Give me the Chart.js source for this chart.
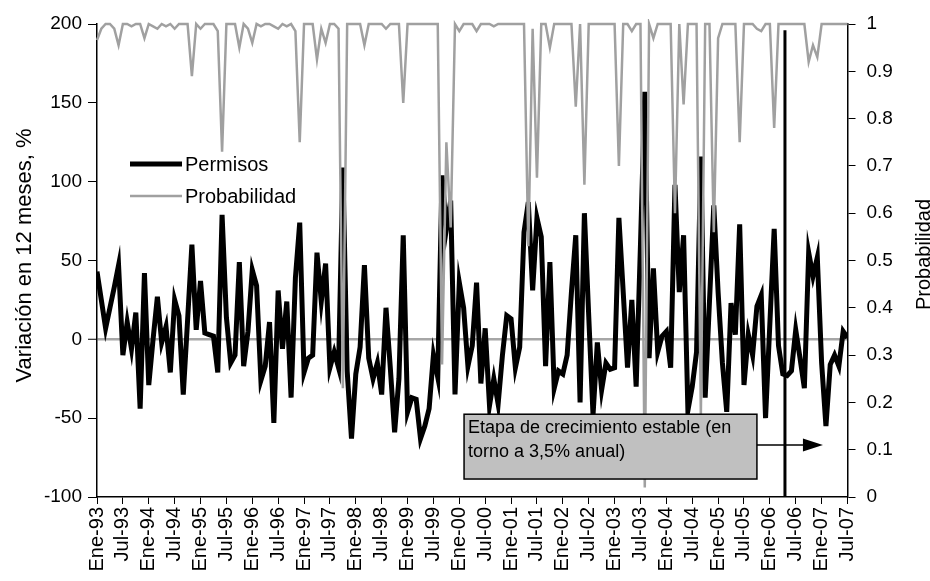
<!DOCTYPE html>
<html>
<head>
<meta charset="utf-8">
<script src="https://cdn.jsdelivr.net/npm/chart.js@4.4.1/dist/chart.umd.min.js"></script>
<style>
  html, body { margin: 0; padding: 0; background: #fff; }
</style>
</head>
<body>
<canvas id="chart" width="930" height="581"></canvas>
<script>
// ======= DATOS =======
const etiquetas = [
  "Ene-93","Jul-93","Ene-94","Jul-94","Ene-95","Jul-95","Ene-96","Jul-96","Ene-97","Jul-97",
  "Ene-98","Jul-98","Ene-99","Jul-99","Ene-00","Jul-00","Ene-01","Jul-01","Ene-02","Jul-02",
  "Ene-03","Jul-03","Ene-04","Jul-04","Ene-05","Jul-05","Ene-06","Jul-06","Ene-07","Jul-07"
];

// variacion en 12 meses de permisos, mensual ene-93 .. jul-07
const permisos = [
  43, 25, 7, 20, 33, 47, -10, 11, -6, 17, -44, 42,
  -29, 0, 27, -2, 8, -21, 25, 15, -35, 12, 60, 6,
  37, 4, 3, 2, -21, 79, 14, -15, -10, 49, -17, 5,
  44, 34, -26, -17, 11, -53, 31, -6, 24, -37, 39, 74,
  -21, -12, -10, 55, 24, 48, -18, -8, -18, 109, -20, -63,
  -22, -5, 47, -12, -25, -15, -35, 20, -18, -59, -25, 66,
  -46, -37, -38, -63, -55, -44, -10, -24, 104, 70, 88, -35,
  36, 20, -17, -4, 36, -28, 7, -42, -25, -41, -10, 15,
  13, -18, -5, 68, 87, 31, 77, 65, -17, 49, -31, -20,
  -22, -10, 30, 66, -40, 80, 15, -48, -2, -32, -15, -19,
  -18, 77, 30, -18, 25, -30, 60, 157, -12, 45, -8, 2,
  5, -18, 98, 30, 66, -45, -30, -8, 116, -37, 24, 85,
  30, -15, -46, 23, 3, 73, -29, 3, -10, 21, 28, -50,
  10, 70, -4, -22, -23, -20, 6, -12, -31, 55, 40, 52,
  -15, -55, -16, -10, -17, 5, 1
];

const probabilidad = [
  0.966, 0.99, 1, 1, 0.99, 0.955, 1, 1, 0.995, 1, 1, 0.97,
  1, 0.995, 0.99, 1, 0.995, 1, 0.99, 1, 1, 1, 0.89, 1,
  0.99, 1, 1, 1, 0.985, 0.73, 1, 1, 1, 0.95, 1, 0.99,
  0.96, 1, 0.995, 1, 1, 0.995, 0.99, 1, 0.995, 1, 0.985, 0.75,
  1, 1, 1, 0.925, 0.99, 0.96, 1, 1, 0.99, 0.23, 1, 1,
  1, 1, 0.955, 1, 1, 1, 1, 0.99, 1, 1, 1, 0.833,
  1, 1, 1, 1, 1, 1, 1, 1, 0.28, 0.75, 0.57, 1,
  0.985, 1, 1, 1, 0.985, 1, 1, 1, 0.995, 1, 1, 1,
  1, 1, 1, 1, 0.53, 0.99, 0.675, 1, 1, 0.95, 1, 1,
  1, 1, 1, 0.825, 1, 0.66, 1, 1, 1, 1, 1, 1,
  1, 0.70, 1, 1, 0.985, 1, 1, 0.02, 1, 0.97, 1, 1,
  1, 1, 0.60, 1, 0.83, 1, 1, 1, 0.17, 1, 1, 0.56,
  0.97, 1, 1, 1, 1, 0.75, 1, 1, 1, 0.99, 0.985, 1,
  1, 0.78, 1, 1, 1, 1, 1, 1, 1, 0.92, 0.955, 0.93,
  1, 1, 1, 1, 1, 1, 1
];

// anotacion: recuadro, flecha y linea vertical (en unidades de los ejes)
const textoCaja = ["Etapa de crecimiento estable (en", "torno a 3,5% anual)"];
const caja = { desde: 85.1, hasta: 153, arriba: -47.5, abajo: -88.6 };
const flecha = { nivel: -67, hasta: 168.3 };
const linea = { mes: 159.5, tope: 196 };

const FUENTE = '"Liberation Sans", Arial, sans-serif';
Chart.defaults.font.family = FUENTE;
Chart.defaults.color = "#000";

// ======= ANOTACIONES =======
const anotaciones = {
  id: "anotaciones",
  afterDatasetsDraw(chart) {
    const { ctx, chartArea: a, scales: { x, y } } = chart;
    ctx.save();

    // recuadro gris
    const bx1 = x.getPixelForValue(caja.desde), bx2 = x.getPixelForValue(caja.hasta);
    const by1 = y.getPixelForValue(caja.arriba), by2 = y.getPixelForValue(caja.abajo);
    ctx.fillStyle = "#C0C0C0";
    ctx.fillRect(bx1, by1, bx2 - bx1, by2 - by1);
    ctx.strokeStyle = "#000";
    ctx.lineWidth = 1.5;
    ctx.strokeRect(bx1, by1, bx2 - bx1, by2 - by1);
    ctx.fillStyle = "#000";
    ctx.font = "18px " + FUENTE;
    ctx.textAlign = "left";
    ctx.textBaseline = "alphabetic";
    ctx.fillText(textoCaja[0], bx1 + 4, by1 + 19);
    ctx.fillText(textoCaja[1], bx1 + 4, by1 + 43);

    // flecha
    const ay = y.getPixelForValue(flecha.nivel);
    const ax = x.getPixelForValue(flecha.hasta);
    ctx.beginPath();
    ctx.moveTo(bx2, ay);
    ctx.lineTo(ax - 18, ay);
    ctx.stroke();
    ctx.beginPath();
    ctx.moveTo(ax, ay);
    ctx.lineTo(ax - 20, ay - 6.5);
    ctx.lineTo(ax - 20, ay + 6.5);
    ctx.closePath();
    ctx.fill();

    // linea vertical
    const vx = x.getPixelForValue(linea.mes);
    ctx.beginPath();
    ctx.moveTo(vx, y.getPixelForValue(linea.tope));
    ctx.lineTo(vx, a.bottom);
    ctx.lineWidth = 3;
    ctx.stroke();

    // leyenda
    const lx = a.left + 33, ly = a.top + 140;
    ctx.beginPath();
    ctx.moveTo(lx, ly); ctx.lineTo(lx + 52, ly);
    ctx.lineWidth = 5; ctx.strokeStyle = "#000"; ctx.stroke();
    ctx.beginPath();
    ctx.moveTo(lx, ly + 32); ctx.lineTo(lx + 52, ly + 32);
    ctx.lineWidth = 2.5; ctx.strokeStyle = "#A0A0A0"; ctx.stroke();
    ctx.font = "20px " + FUENTE;
    ctx.textBaseline = "middle";
    ctx.fillText("Permisos", lx + 55, ly + 1);
    ctx.fillText("Probabilidad", lx + 55, ly + 33);

    // titulos de ejes
    ctx.textAlign = "center";
    ctx.save();
    ctx.translate(25, (a.top + a.bottom) / 2 - 5);
    ctx.rotate(-Math.PI / 2);
    ctx.font = "22px " + FUENTE;
    ctx.fillText("Variación en 12 meses, %", 0, 0);
    ctx.restore();
    ctx.save();
    ctx.translate(924, (a.top + a.bottom) / 2 - 6);
    ctx.rotate(-Math.PI / 2);
    ctx.font = "20px " + FUENTE;
    ctx.fillText("Probabilidad", 0, 0);
    ctx.restore();

    ctx.restore();
  }
};

// ======= GRAFICO =======
const ctx = document.getElementById("chart");
const chart = new Chart(ctx, {
  type: "line",
  data: {
    datasets: [
      {
        label: "Permisos",
        data: permisos.map((v, i) => ({ x: i, y: v })),
        yAxisID: "y",
        borderColor: "#000",
        borderWidth: 5,
        pointRadius: 0,
        tension: 0,
        order: 1
      },
      {
        label: "Probabilidad",
        data: probabilidad.map((v, i) => ({ x: i, y: v })),
        yAxisID: "y1",
        borderColor: "#A0A0A0",
        borderWidth: 2.5,
        pointRadius: 0,
        tension: 0,
        clip: 5,
        order: 0
      }
    ]
  },
  options: {
    responsive: false,
    animation: false,
    layout: { padding: { top: 24, left: 0, right: 0, bottom: 0 } },
    plugins: { legend: { display: false }, tooltip: { enabled: false } },
    scales: {
      x: {
        type: "linear",
        min: 0,
        max: permisos.length - 1,
        afterFit: s => { s.height = 84; },
        ticks: {
          stepSize: 6,
          autoSkip: false,
          minRotation: 90,
          maxRotation: 90,
          padding: 3,
          font: { size: 20 },
          callback: v => etiquetas[Math.round(v / 6)]
        },
        grid: { drawOnChartArea: false, tickLength: 7, tickColor: "#000", color: "#000" },
        border: { color: "#000", width: 1.5 }
      },
      y: {
        position: "left",
        min: -100,
        max: 200,
        afterFit: s => { s.width = 97; },
        ticks: { stepSize: 50, padding: 6, font: { size: 19 }, callback: v => String(v) },
        grid: {
          color: c => (c.tick && c.tick.value === 0) ? "#A6A6A6" : "rgba(0,0,0,0)",
          lineWidth: c => (c.tick && c.tick.value === 0) ? 2.5 : 1,
          tickColor: "#000",
          tickWidth: 1,
          tickLength: 9
        },
        border: { color: "#000", width: 1.5 }
      },
      y1: {
        position: "right",
        min: 0,
        max: 1,
        afterFit: s => { s.width = 82.5; },
        ticks: {
          stepSize: 0.1,
          padding: 11,
          font: { size: 19 },
          callback: v => String(Math.round(v * 10) / 10)
        },
        grid: { drawOnChartArea: false, tickColor: "#000", tickLength: 8 },
        border: { color: "#000", width: 1.5 }
      }
    }
  },
  plugins: [anotaciones]
});
</script>
</body>
</html>
